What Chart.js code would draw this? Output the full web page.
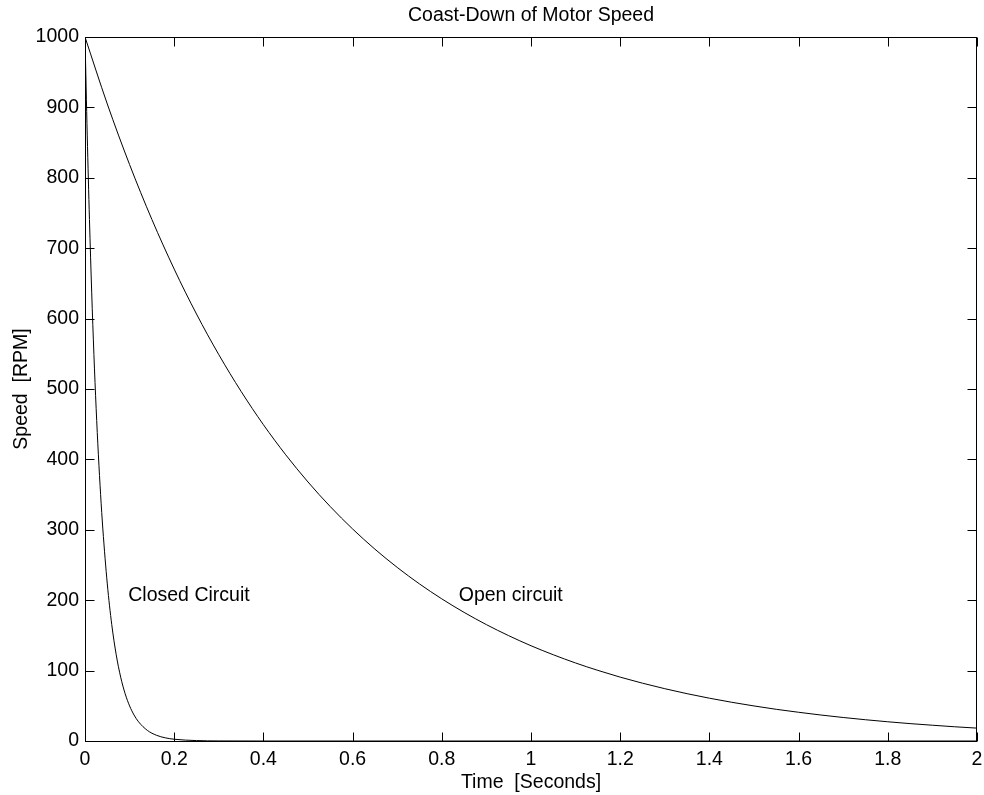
<!DOCTYPE html>
<html>
<head>
<meta charset="utf-8">
<title>Coast-Down of Motor Speed</title>
<script src="https://cdn.jsdelivr.net/npm/chart.js@4.4.0/dist/chart.umd.min.js"></script>
<style>
  html, body { margin: 0; padding: 0; background: #fff; }
  #wrap { width: 984px; height: 795px; }
</style>
</head>
<body>
<div id="wrap"><canvas id="myChart" width="984" height="795"></canvas></div>
<script>
// open circuit, read every 0.05 s
var openTime = [0, 0.05, 0.1, 0.15, 0.2, 0.25, 0.3, 0.35, 0.4, 0.45, 0.5, 0.55, 0.6, 0.65, 0.7,
  0.75, 0.8, 0.85, 0.9, 0.95, 1, 1.05, 1.1, 1.15, 1.2, 1.25, 1.3, 1.35, 1.4, 1.45, 1.5,
  1.55, 1.6, 1.65, 1.7, 1.75, 1.8, 1.85, 1.9, 1.95, 2];
var openSpeed = [1000, 904.8, 818.7, 740.8, 670.3, 606.5, 548.8, 496.6, 449.3, 406.6, 367.9,
  332.9, 301.2, 272.5, 246.6, 223.1, 201.9, 182.7, 165.3, 149.6, 135.3, 122.5, 110.8, 100.3,
  90.7, 82.1, 74.3, 67.2, 60.8, 55.0, 49.8, 45.0, 40.8, 36.9, 33.4, 30.2, 27.3, 24.7, 22.4,
  20.2, 18.3];

// closed circuit, drops fast so sampled finer at the start
var closedTime = [0, 0.005, 0.01, 0.015, 0.02, 0.025, 0.03, 0.035, 0.04, 0.05, 0.06, 0.07,
  0.08, 0.09, 0.1, 0.11, 0.12, 0.14, 0.16, 0.18, 0.2, 0.25, 0.3, 0.4, 0.6, 1, 2];
var closedSpeed = [1000, 860.7, 740.8, 637.6, 548.8, 472.4, 406.6, 349.9, 301.2, 223.1, 165.3,
  122.5, 90.7, 67.2, 49.8, 36.9, 27.3, 15.0, 8.2, 4.5, 2.5, 0.6, 0.1, 0, 0, 0, 0];

var xTicks = [0, 0.2, 0.4, 0.6, 0.8, 1, 1.2, 1.4, 1.6, 1.8, 2];
var xTickLabels = ["0", "0.2", "0.4", "0.6", "0.8", "1", "1.2", "1.4", "1.6", "1.8", "2"];
var yTicks = [0, 100, 200, 300, 400, 500, 600, 700, 800, 900, 1000];
var yTickLabels = ["0", "100", "200", "300", "400", "500", "600", "700", "800", "900", "1000"];

var labelTexts = ["Closed Circuit", "Open circuit"];
var labelX = [0.097, 0.838];
var labelY = [200, 200];

var FONT = '"Liberation Sans", Arial, Helvetica, sans-serif';
var INK = "#000";

function pairs(xs, ys) {
  return xs.map(function (x, i) { return { x: x, y: ys[i] }; });
}

// box, inward ticks on all four sides, titles and text labels
var matlabAxes = {
  id: "matlabAxes",
  afterDatasetsDraw: function (chart) {
    var ctx = chart.ctx;
    var a = chart.chartArea;
    var xs = chart.scales.x, ys = chart.scales.y;
    var tl = 9;
    var L = Math.round(a.left) + 0.5, R = Math.round(a.right) - 0.5;
    var T = Math.round(a.top) + 0.5, B = Math.round(a.bottom) + 0.5;
    ctx.save();
    ctx.strokeStyle = INK;
    ctx.lineWidth = 1;
    ctx.strokeRect(L, T, R - L, B - T);
    ctx.beginPath();
    xs.ticks.forEach(function (t) {
      var px = Math.round(xs.getPixelForValue(t.value)) + 0.5;
      ctx.moveTo(px, B); ctx.lineTo(px, B - tl);
      ctx.moveTo(px, T); ctx.lineTo(px, T + tl);
    });
    ys.ticks.forEach(function (t) {
      var py = Math.round(ys.getPixelForValue(t.value)) + 0.5;
      ctx.moveTo(L, py); ctx.lineTo(L + tl, py);
      ctx.moveTo(R, py); ctx.lineTo(R - tl, py);
    });
    ctx.stroke();

    ctx.fillStyle = INK;
    ctx.font = "19.5px " + FONT;
    ctx.textBaseline = "alphabetic";
    ctx.textAlign = "center";
    var cx = (a.left + a.right) / 2;
    ctx.fillText("Coast-Down of Motor Speed", cx, 21);
    ctx.fillText("Time  [Seconds]", cx, 788);

    ctx.save();
    ctx.translate(26.5, (a.top + a.bottom) / 2);
    ctx.rotate(-Math.PI / 2);
    ctx.fillText("Speed  [RPM]", 0, 0);
    ctx.restore();

    ctx.textAlign = "left";
    labelTexts.forEach(function (txt, i) {
      ctx.fillText(txt, xs.getPixelForValue(labelX[i]), ys.getPixelForValue(labelY[i]) + 1);
    });
    ctx.restore();
  }
};

new Chart("myChart", {
  type: "line",
  data: {
    datasets: [{
      label: "Open circuit",
      data: pairs(openTime, openSpeed),
      borderColor: INK,
      borderWidth: 1,
      pointRadius: 0,
      cubicInterpolationMode: "monotone",
      fill: false
    }, {
      label: "Closed Circuit",
      data: pairs(closedTime, closedSpeed),
      borderColor: INK,
      borderWidth: 1,
      pointRadius: 0,
      cubicInterpolationMode: "monotone",
      fill: false
    }]
  },
  options: {
    responsive: false,
    animation: false,
    events: [],
    layout: { padding: { top: 37, right: 7, left: 0, bottom: 0 } },
    plugins: {
      legend: { display: false },
      title: { display: false },
      tooltip: { enabled: false }
    },
    scales: {
      x: {
        type: "linear",
        min: 0,
        max: 2,
        grid: { display: false, drawTicks: false },
        border: { display: false },
        afterBuildTicks: function (s) { s.ticks = xTicks.map(function (v) { return { value: v }; }); },
        afterFit: function (s) { s.height = 54; s.paddingRight = 0; s.paddingLeft = 0; },
        ticks: {
          padding: 7,
          maxRotation: 0,
          autoSkip: false,
          color: INK,
          font: { family: FONT, size: 19.5 },
          callback: function (v, i) { return xTickLabels[i]; }
        }
      },
      y: {
        type: "linear",
        min: 0,
        max: 1000,
        grid: { display: false, drawTicks: false },
        border: { display: false },
        afterBuildTicks: function (s) { s.ticks = yTicks.map(function (v) { return { value: v }; }); },
        afterFit: function (s) { s.width = 85; s.paddingTop = 0; s.paddingBottom = 0; },
        ticks: {
          padding: 6,
          autoSkip: false,
          color: INK,
          font: { family: FONT, size: 19.5 },
          callback: function (v, i) { return yTickLabels[i]; }
        }
      }
    }
  },
  plugins: [matlabAxes]
});
</script>
</body>
</html>
